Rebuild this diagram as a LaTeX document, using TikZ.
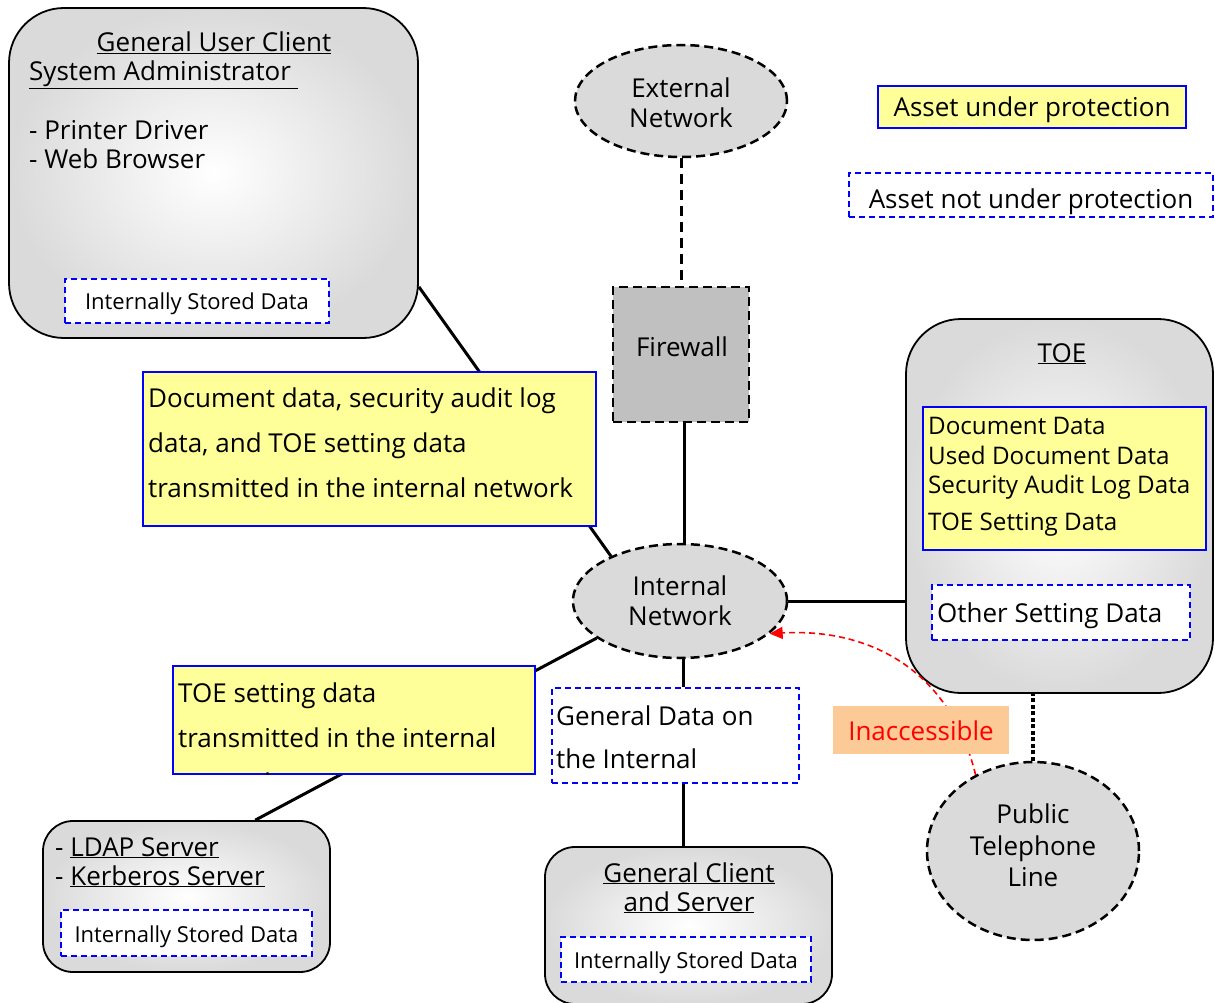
\documentclass[tikz,border=0pt]{standalone}
\usepackage{fontspec}
\setmainfont{Open Sans}
\usetikzlibrary{shapes.geometric,arrows.meta}
\definecolor{yel}{RGB}{255,255,153}
\definecolor{bl}{RGB}{0,0,255}
\definecolor{org}{RGB}{252,202,150}
\definecolor{gfill}{RGB}{218,218,218}
\definecolor{fwc}{RGB}{192,192,192}
\definecolor{rd}{RGB}{255,0,0}
\pgfdeclarelayer{bg}
\pgfsetlayers{bg,main}
\tikzset{
 shbox/.style={draw=black, line width=1.8pt, shading=radial, inner color=white, outer color=gfill, inner sep=0pt},
 netell/.style={ellipse, draw=black, line width=2.5pt, dash pattern=on 9pt off 5pt, fill=gfill, inner sep=0pt},
 prot/.style={draw=bl, line width=1.5pt, fill=yel, inner sep=0pt},
 unprot/.style={draw=bl, line width=1.5pt, dash pattern=on 6pt off 4pt, fill=white, inner sep=0pt},
 conn/.style={line width=3pt, black},
 txt/.style={inner sep=0pt, font=\fontsize{26}{30}\selectfont},
 ttxt/.style={inner sep=0pt, font=\fontsize{24.2}{30}\selectfont},
 stxt/.style={inner sep=0pt, font=\fontsize{22}{24}\selectfont},
}
\begin{document}
\begin{tikzpicture}[x=1pt,y=-1pt]
\useasboundingbox (0,0) rectangle (1215,1003);
% ---- main boxes
\node[shbox, rounded corners=55pt, minimum width=409pt, minimum height=330pt] (guc) at (213.5,173) {};
\node[shbox, rounded corners=55pt, minimum width=307pt, minimum height=374pt] (toe) at (1059.5,506) {};
\node[shbox, rounded corners=30pt, minimum width=287pt, minimum height=151pt] (ldap) at (186.5,896.5) {};
\node[shbox, rounded corners=30pt, minimum width=287pt, minimum height=157pt] (gcs) at (688.5,925.5) {};
\node[netell, minimum width=212pt, minimum height=112pt] (ext) at (681,101) {};
\node[netell, minimum width=214pt, minimum height=114pt] (intnet) at (680,601) {};
\node[netell, minimum width=212pt, minimum height=178pt] (ptl) at (1033,851) {};
\node[draw=black, line width=2.5pt, dash pattern=on 9pt off 5pt, fill=fwc, minimum width=136pt, minimum height=135pt, inner sep=0pt] (fw) at (681,354.5) {};
% ---- data boxes
\node[unprot, minimum width=264pt, minimum height=44pt] (gucisd) at (197,301) {};
\node[unprot, minimum width=251pt, minimum height=46pt] (ldapisd) at (186.5,933) {};
\node[unprot, minimum width=250pt, minimum height=45pt] (gcsisd) at (686,959.5) {};
\node[unprot, minimum width=258pt, minimum height=55pt] (osd) at (1061,612.5) {};
\node[prot, minimum width=283pt, minimum height=143pt] (toedata) at (1064.5,478.5) {};
\node[prot, minimum width=453pt, minimum height=154pt] (netdata) at (369.5,449) {};
\node[prot, minimum width=362pt, minimum height=108pt] (tsd) at (354,720) {};
\node[unprot, minimum width=247pt, minimum height=95pt] (gd) at (675.5,735.5) {};
\node[prot, minimum width=308pt, minimum height=42pt] (legp) at (1032,107) {};
\node[unprot, minimum width=364pt, minimum height=44pt] (legu) at (1031,195) {};
% ---- connectors (behind)
\begin{pgfonlayer}{bg}
\draw[conn] (guc.-29.8) -- (intnet.147);
\draw[conn] (intnet.204.5) -- (ldap.48.2);
\draw[conn] ([xshift=3pt]fw.south) -- ([xshift=3pt]fw.south |- intnet.north);
\draw[conn] ([xshift=3pt]intnet.south) -- ([xshift=3pt]intnet.south |- gd.north);
\draw[conn] ([xshift=3pt]intnet.south |- gd.south) -- ([xshift=3pt]intnet.south |- gcs.north);
\draw[conn] (intnet.east) -- (intnet.east -| toe.west);
\draw[line width=3pt, dash pattern=on 10pt off 6pt] (ext.south) -- (fw.north);
\draw[line width=3.5pt, dash pattern=on 4pt off 2.5pt] (ptl.north) -- (ptl.north |- toe.south);
\end{pgfonlayer}
% ---- red arrow
\draw[rd, line width=1.6pt, dash pattern=on 6pt off 4pt, -{Triangle[length=13pt,width=12pt]}]
  (ptl.127) .. controls (950,670) and (870,628) .. (intnet.-20);
\node[fill=org, minimum width=176pt, minimum height=48pt, inner sep=0pt] (inacc) at (921,730) {};
\node[txt, text=rd, anchor=base] (inaccT) at (921,740) {Inaccessible};
% ---- texts
\node[txt, anchor=base] (gucT) at (214,52) {\underline{General User Client}};
\node[txt, anchor=base west] (gucA) at (29,81) {\underline{System Administrator\ }};
\node[txt, anchor=base west] (gucL1) at (29,140) {- Printer Driver};
\node[txt, anchor=base west] (gucL2) at (29,169) {- Web Browser};
\node[stxt, anchor=base] (gucisdT) at (197,309) {Internally Stored Data};
\node[txt, anchor=base] (extT1) at (681,98) {External};
\node[txt, anchor=base] (extT2) at (681,128) {Network};
\node[txt, anchor=base] (fwT) at (682,356) {Firewall};
\node[txt, anchor=base] (intT1) at (680,595) {Internal};
\node[txt, anchor=base] (intT2) at (680,625) {Network};
\node[txt, anchor=base] (legpT) at (1032,117) {Asset under protection};
\node[txt, anchor=base] (leguT) at (1031,208) {Asset not under protection};
\node[txt, anchor=base west] (nd1) at (148,407) {Document data, security audit log};
\node[txt, anchor=base west] (nd2) at (148,452) {data, and TOE setting data};
\node[txt, anchor=base west] (nd3) at (148,497) {transmitted in the internal network};
\node[txt, anchor=base] (toeT) at (1062,362) {\underline{TOE}};
\node[ttxt, anchor=base west] (td1) at (928,434) {Document Data};
\node[ttxt, anchor=base west] (td2) at (928,464) {Used Document Data};
\node[ttxt, anchor=base west] (td3) at (928,493) {Security Audit Log Data};
\node[ttxt, anchor=base west] (td4) at (928,530) {TOE Setting Data};
\node[txt, anchor=base west] (osdT) at (937,622) {Other Setting Data};
\begin{scope}
\clip (tsd.north west) rectangle (tsd.south east);
\node[txt, anchor=base west] (ts1) at (178,702) {TOE setting data};
\node[txt, anchor=base west] (ts2) at (178,747) {transmitted in the internal};
\node[txt, anchor=base west] (ts3) at (178,792) {network};
\end{scope}
\node[txt, anchor=base west] (gd1) at (556,725) {General Data on};
\node[txt, anchor=base west] (gd2) at (556,768) {the Internal};
\node[txt, anchor=base west] (ld1) at (55,856) {- \underline{LDAP Server}};
\node[txt, anchor=base west] (ld2) at (55,885) {- \underline{Kerberos Server}};
\node[stxt, anchor=base] (ldapisdT) at (186.5,942) {Internally Stored Data};
\node[txt, anchor=base] (gcsT1) at (689,882) {\underline{General Client}};
\node[txt, anchor=base] (gcsT2) at (689,911) {\underline{and Server}};
\node[stxt, anchor=base] (gcsisdT) at (686,968) {Internally Stored Data};
\node[txt, anchor=base] (ptlT1) at (1033,823) {Public};
\node[txt, anchor=base] (ptlT2) at (1033,855) {Telephone};
\node[txt, anchor=base] (ptlT3) at (1033,886) {Line};
\end{tikzpicture}
\end{document}
